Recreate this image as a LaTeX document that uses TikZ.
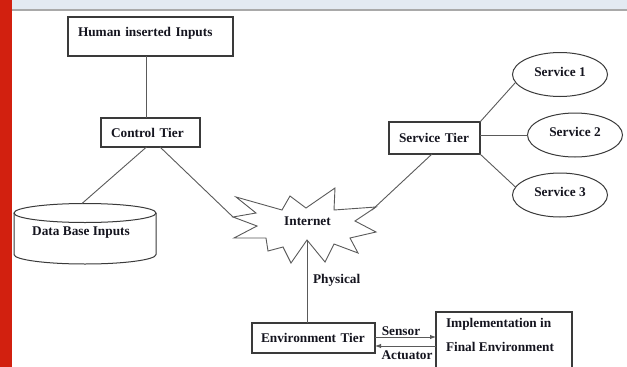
\documentclass[tikz,border=0pt]{standalone}
\usepackage{fontspec}
\setmainfont{Liberation Serif}
\usetikzlibrary{arrows.meta,shapes.geometric}
\definecolor{ink}{HTML}{15151F}
\definecolor{edgegray}{HTML}{5A5A5A}
\definecolor{framegray}{HTML}{3A3A3A}
\definecolor{barred}{HTML}{D2200F}
\definecolor{band}{HTML}{E3EAF2}
\definecolor{bandline}{HTML}{A9A9A9}
\begin{document}
\begin{tikzpicture}[x=1pt,y=-1pt,
  font=\fontsize{13.3}{16}\selectfont\bfseries, text=ink,
  box/.style={draw=framegray, line width=1.1pt, rectangle, inner sep=0pt, outer sep=0pt},
  svcell/.style={draw=framegray, line width=1pt, ellipse, minimum width=95pt, minimum height=44pt, inner sep=0pt, outer sep=0pt, text height=9pt, text depth=6pt},
  conn/.style={draw=edgegray, line width=0.9pt},
  lbl/.style={inner sep=0pt, outer sep=0pt},
  tip/.style={-{Latex[length=6pt,width=4.5pt]}}]
\useasboundingbox (0,0) rectangle (627,367);
\fill[white] (0,0) rectangle (627,367);
\fill[band] (0,0) rectangle (627,9);
\fill[bandline] (0,9) rectangle (627,11);
\fill[barred] (0,0) rectangle (12,367);

% boxes
\node[box, anchor=north west, minimum width=165pt, text width=145pt, inner xsep=10pt,
      text height=19pt, text depth=20pt, align=left] (hum) at (68,17) {Human inserted Inputs};
\node[box, minimum width=99pt, minimum height=29pt, text width=79pt, inner xsep=10pt, align=left] (ctrl) at (150.5,132.5) {Control Tier};
\node[box, minimum width=91pt, minimum height=32pt, text width=71pt, inner xsep=10pt, align=left] (svc) at (434.5,138) {Service Tier};
\node[box, minimum width=123pt, minimum height=30pt, text width=105pt, inner xsep=9pt, align=left] (env) at (313.5,338) {Environment Tier};
\node[box, anchor=north west, minimum width=136pt, minimum height=80pt] (impl) at (436,312) {};
\node[lbl, anchor=north west, align=left] (impltxt) at (446,318) {Implementation in\\[8pt]Final Environment};

% services
\node[svcell] (s1) at (560,74.5) {Service 1};
\node[svcell] (s2) at (575,135) {Service 2};
\node[svcell] (s3) at (560,195) {Service 3};

% database cylinder
\draw[draw=framegray, line width=1pt, fill=white] (14,213) -- (14,254.5)
   arc[start angle=180, end angle=360, x radius=71pt, y radius=9.5pt] -- (156,213);
\draw[draw=framegray, line width=1pt] (85,213) ellipse[x radius=71pt, y radius=9.5pt];
\node[lbl] (db) at (81,233) {Data Base Inputs};
\coordinate (dbtop) at (82,203.5);

% internet star
\draw[conn, fill=white] (233,217) -- (256,213) -- (236,197) -- (282,210) -- (290,196)
  -- (306,208) -- (335,188) -- (334,210) -- (376,207) -- (355,221) -- (376,232)
  -- (350,238) -- (358,253) -- (334,244) -- (325,262) -- (307,240) -- (291,263)
  -- (283,247) -- (268,251) -- (266,238) -- (234,238) -- (257,226) -- cycle;
\node[lbl] (net) at (307.5,221) {Internet};
\coordinate (netL) at (233,217);
\coordinate (netR) at (372,210);
\coordinate (netB) at (307,240);

% connectors
\draw[conn] ([xshift=-4.5pt]ctrl.north) -- ([xshift=-4.5pt]ctrl.north |- hum.south);
\draw[conn] ([xshift=-4pt]ctrl.south) -- (dbtop);
\draw[conn] ([xshift=9.5pt]ctrl.south) -- (netL);
\draw[conn] ([xshift=-2.5pt]svc.south) -- (netR);
\draw[conn] (svc.north east) -- (s1.190);
\draw[conn] (svc.east |- s2) -- (s2.west);
\draw[conn] (svc.south east) -- (s3.170);
\draw[conn] (netB) -- (netB |- env.north);
\node[lbl, anchor=west] (phys) at (313,280) {Physical};

\draw[conn, tip] ([yshift=1pt]env.east) -- ([yshift=1pt]env.east -| impl.west);
\draw[conn, tip] ([yshift=-8pt]env.east -| impl.west) -- ([yshift=-8pt]env.east);
\node[lbl] (sens) at (401,331) {Sensor};
\node[lbl] (act) at (407,355.5) {Actuator};
\end{tikzpicture}
\end{document}
